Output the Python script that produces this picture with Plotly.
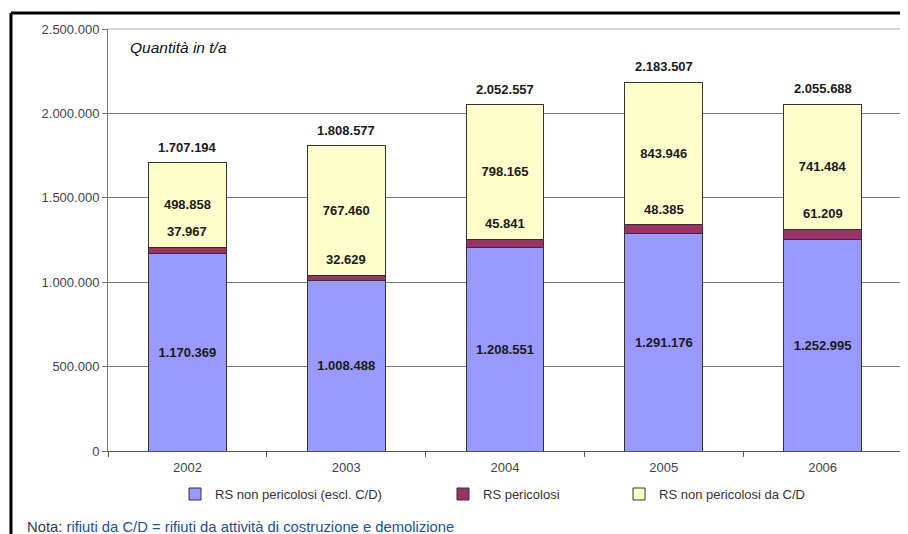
import plotly.graph_objects as go

years = ["2002", "2003", "2004", "2005", "2006"]
rs_non_pericolosi = [1170369, 1008488, 1208551, 1291176, 1252995]
rs_pericolosi = [37967, 32629, 45841, 48385, 61209]
rs_cd = [498858, 767460, 798165, 843946, 741484]
totals = [1707194, 1808577, 2052557, 2183507, 2055688]

def fmt(v):
    return f"{v:,}".replace(",", ".")

FONT = "Liberation Sans, Arial, sans-serif"
LBL = dict(family=FONT, size=13, color="#1a1a1a", weight="bold")
line = dict(color="#333333", width=1)

fig = go.Figure()
fig.add_trace(go.Bar(x=years, y=rs_non_pericolosi, name="RS non pericolosi (escl. C/D)",
                     marker=dict(color="#9999FF", line=line),
                     text=[fmt(v) for v in rs_non_pericolosi], textposition="inside",
                     insidetextanchor="middle", textfont=LBL, legend="legend"))
fig.add_trace(go.Bar(x=years, y=rs_pericolosi, name="RS pericolosi",
                     marker=dict(color="#993366", line=line), legend="legend2"))
fig.add_trace(go.Bar(x=years, y=rs_cd, name="RS non pericolosi da C/D",
                     marker=dict(color="#FFFFCC", line=line),
                     text=[fmt(v) for v in rs_cd], textposition="inside",
                     insidetextanchor="middle", textfont=LBL, legend="legend3"))

annotations = []
for i, y in enumerate(years):
    base_red_top = rs_non_pericolosi[i] + rs_pericolosi[i]
    annotations.append(dict(x=i, y=base_red_top, text=fmt(rs_pericolosi[i]), showarrow=False,
                            yanchor="bottom", yshift=6, font=LBL))
    annotations.append(dict(x=i, y=totals[i], text=fmt(totals[i]), showarrow=False,
                            yanchor="bottom", yshift=6, font=LBL))

annotations.append(dict(xref="paper", yref="paper", x=0.025, y=0.957, xanchor="left", yanchor="middle",
                        text="<i>Quantità in t/a</i>", showarrow=False,
                        font=dict(family=FONT, size=15.5, color="#111111")))
annotations.append(dict(xref="paper", yref="paper", x=-0.104, y=-0.179, xanchor="left", yanchor="middle",
                        text="<span style='color:#3a3a3a'>Nota:</span> rifiuti da C/D = rifiuti da attività di costruzione e demolizione",
                        showarrow=False, font=dict(family=FONT, size=14.8, color="#24508f")))
fig.update_layout(annotations=annotations)

leg_common = dict(orientation="h", yanchor="middle", y=-0.102, xanchor="left",
                  font=dict(family=FONT, size=13, color="#333333"), bgcolor="rgba(0,0,0,0)",
                  itemwidth=30, visible=True)
fig.update_layout(
    showlegend=True,
    legend=dict(leg_common, x=0.0844),
    legend2=dict(leg_common, x=0.4219),
    legend3=dict(leg_common, x=0.6436),
)

fig.update_layout(
    barmode="stack",
    bargap=0.51,
    width=900, height=526,
    margin=dict(l=100, r=6, t=21, b=83),
    paper_bgcolor="white", plot_bgcolor="white",
    separators=",.",
    font=dict(family=FONT, size=13, color="#444444"),
    xaxis=dict(type="category", showline=True, linecolor="#555555", linewidth=1,
               ticks="outside", tickson="boundaries", ticklen=5, tickcolor="#555555",
               mirror=False, showgrid=False, ticklabelstandoff=4,
               tickfont=dict(family=FONT, size=13, color="#444444")),
    yaxis=dict(range=[0, 2500000], dtick=500000, tickformat=",d", showline=True,
               linecolor="#777777", ticks="outside", ticklen=5, tickcolor="#777777",
               showgrid=True, gridcolor="#7a7a7a", gridwidth=1, zeroline=False,
               tickfont=dict(family=FONT, size=13, color="#444444")),
    shapes=[
        dict(type="line", xref="paper", yref="paper", x0=-0.1222, x1=1.01, y0=1.0379, y1=1.0379,
             line=dict(color="black", width=3)),
        dict(type="line", xref="paper", yref="paper", x0=-0.1222, x1=-0.1222, y0=1.0379, y1=-0.2,
             line=dict(color="black", width=3)),
        dict(type="line", xref="paper", yref="paper", x0=0, x1=1, y0=1, y1=1,
             line=dict(color="#aaaaaa", width=1)),
        dict(type="line", xref="paper", yref="paper", x0=1, x1=1, y0=0, y1=1,
             line=dict(color="#aaaaaa", width=1)),
    ],
)

fig.write_html("out.html")
